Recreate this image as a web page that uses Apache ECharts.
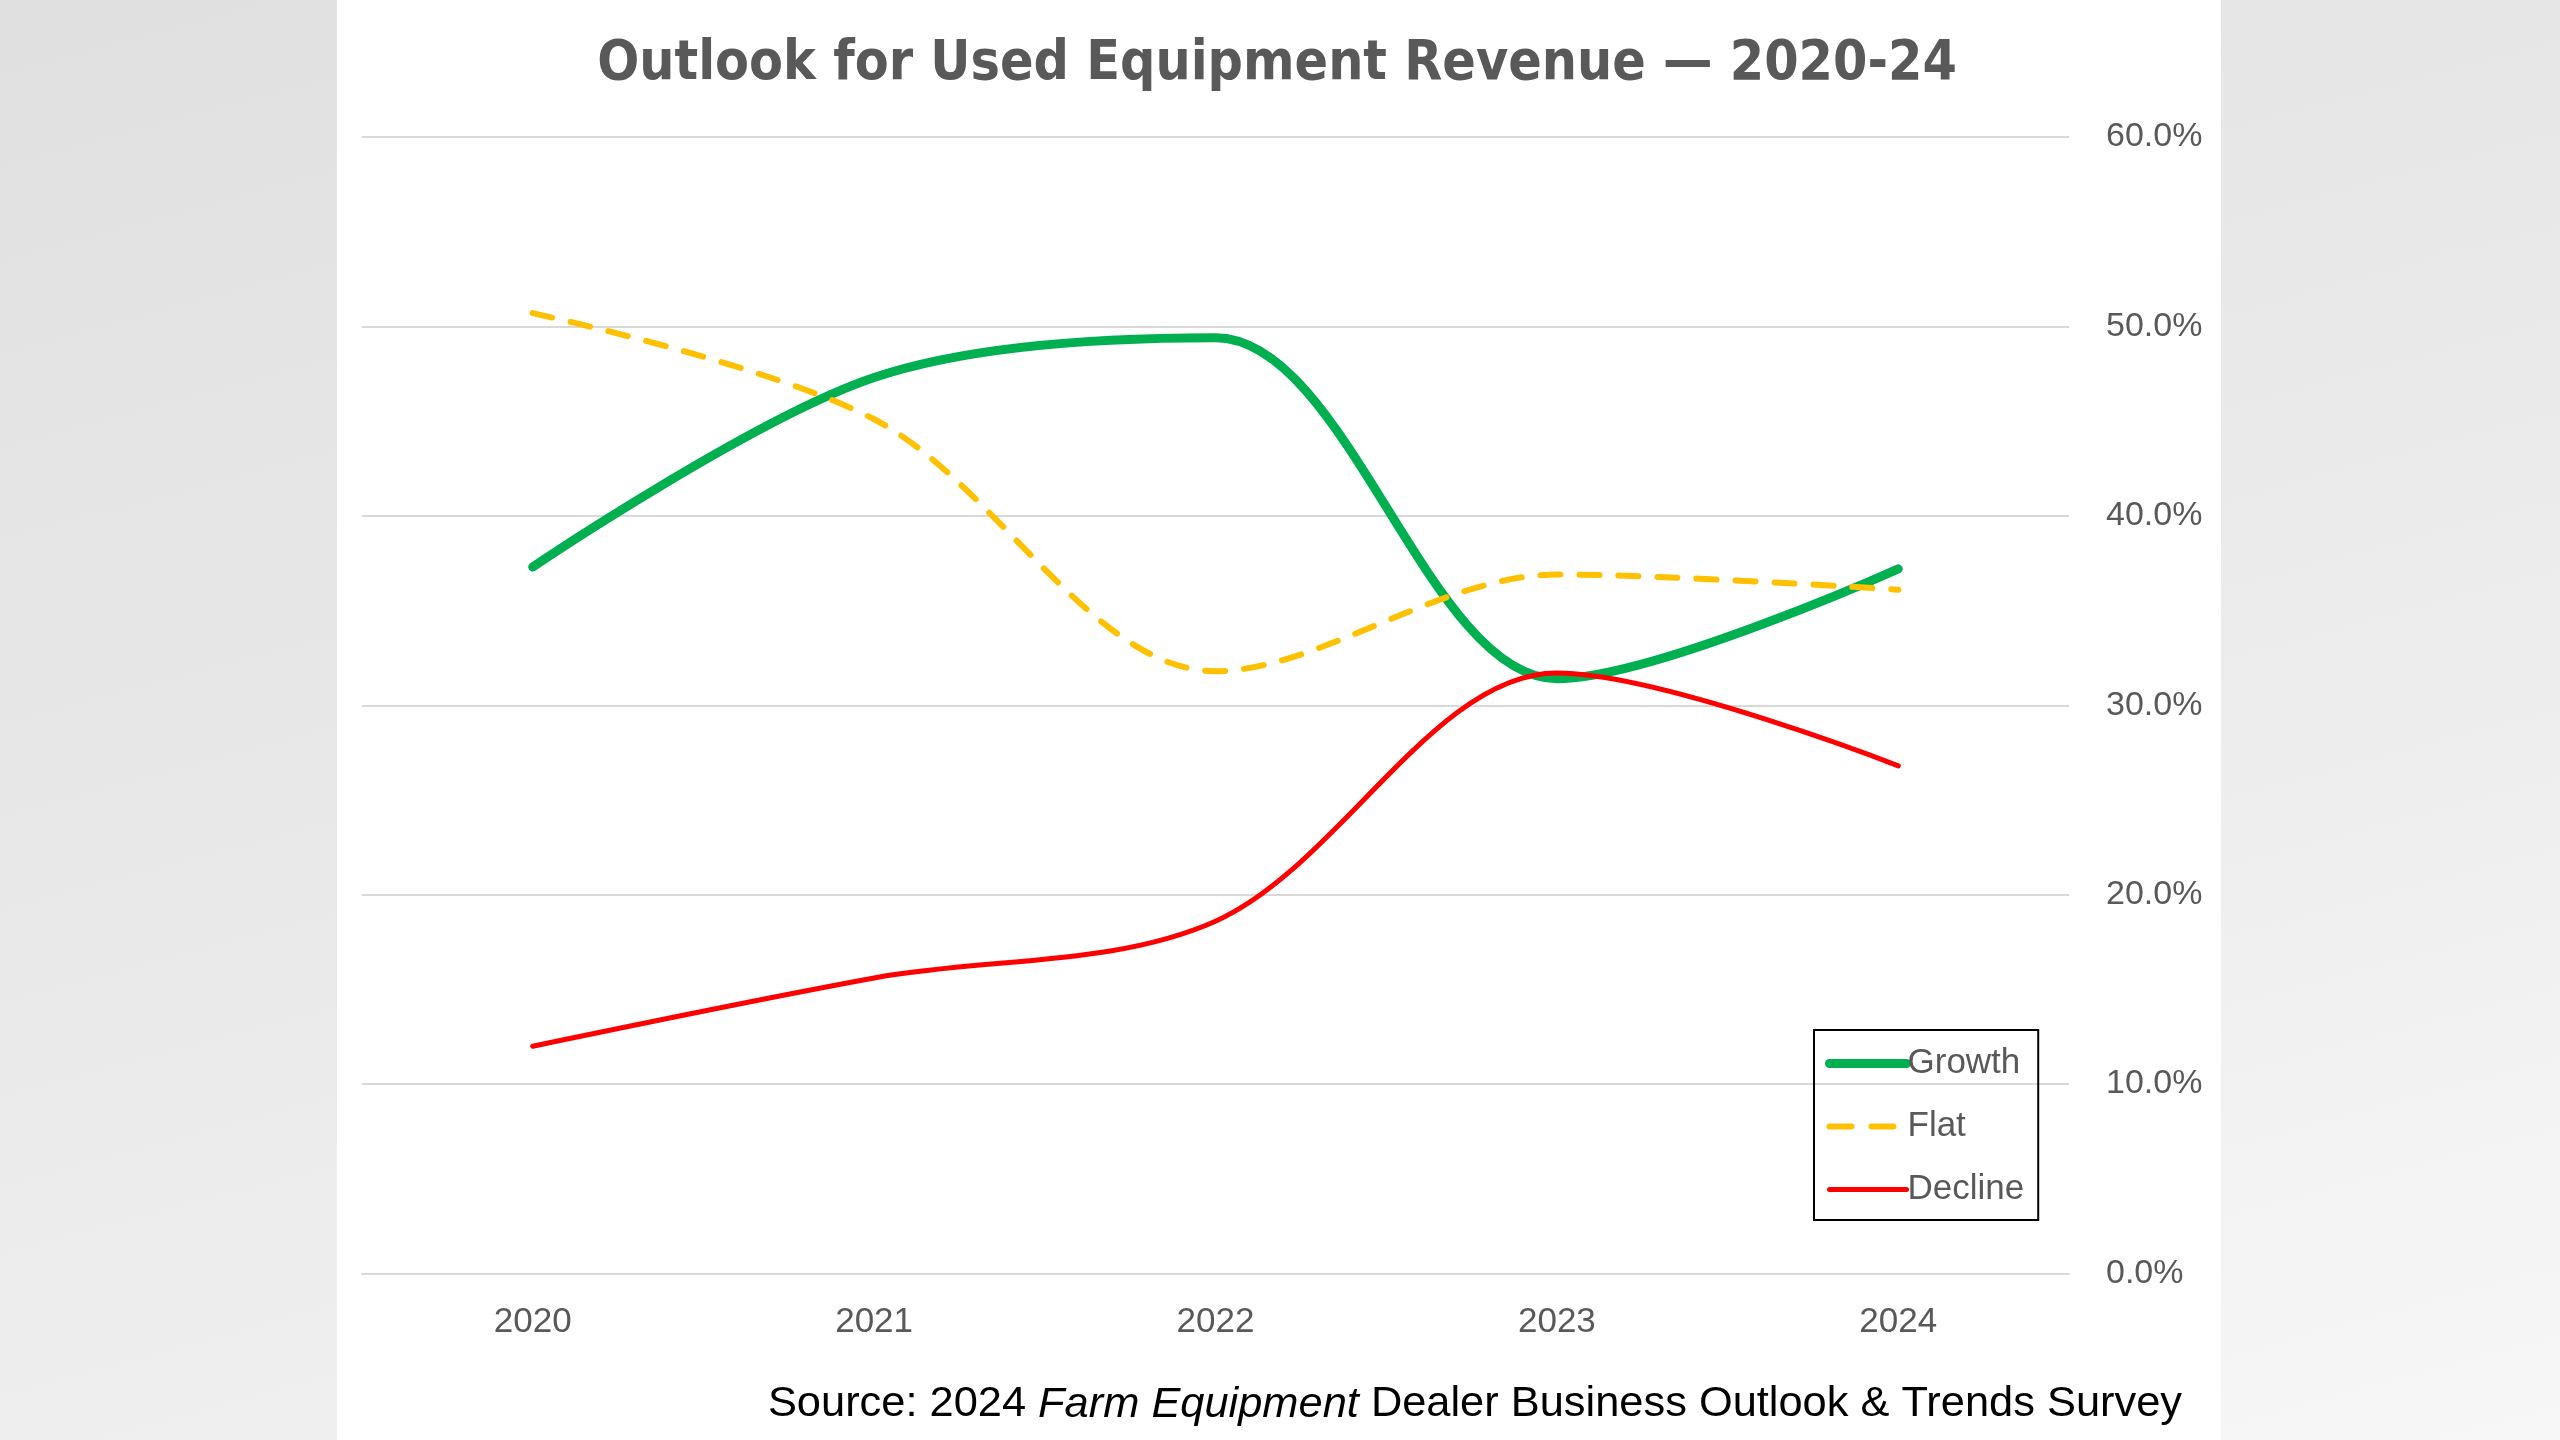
<!DOCTYPE html>
<html>
<head>
<meta charset="utf-8">
<script src="https://cdn.jsdelivr.net/npm/echarts@6/dist/echarts.min.js"></script>
<style>
  html, body { margin: 0; padding: 0; width: 2560px; height: 1440px; overflow: hidden; }
  body { background: linear-gradient(165deg, #e0e0e0 0%, #ebebeb 55%, #f7f7f7 100%); position: relative; }
  #panel { position: absolute; left: 337px; top: 0; width: 1884px; height: 1440px; background: #ffffff; }
  #chart { position: absolute; left: 0; top: 0; width: 2560px; height: 1440px; }
</style>
</head>
<body>
<div id="panel"></div>
<div id="chart"></div>
<script>
const categories = ['2020', '2021', '2022', '2023', '2024'];
const growth = [37.3, 47.3, 49.4, 31.4, 37.2];
const flat = [50.7, 45.1, 31.8, 36.9, 36.1];
const decline = [12.0, 15.6, 18.6, 31.7, 26.8];
const seriesNames = ['Growth', 'Flat', 'Decline'];
const yTicks = { min: 0, max: 60, interval: 10 };

const chart = echarts.init(document.getElementById('chart'), null, { renderer: 'canvas' });
const labelFont = '"Liberation Sans", Arial, sans-serif';
const smoothness = 0.33;
const option = {
  backgroundColor: 'transparent',
  animation: false,
  title: [
    {
      text: 'Outlook for Used Equipment Revenue \u2014 2020-24',
      left: 1272,
      textAlign: 'center',
      top: 32,
      textStyle: { fontFamily: '"Liberation Sans Narrow", "DejaVu Sans Condensed", sans-serif', fontWeight: 'bold', fontSize: 55, color: '#595959' }
    },
    {
      text: '{a|Source: 2024 }{b|Farm Equipment}{a| Dealer Business Outlook & Trends Survey}',
      right: 373,
      top: 1378,
      textStyle: {
        fontWeight: 'normal',
        rich: {
          a: { fontFamily: labelFont, fontSize: 43.4, fontWeight: 'normal', color: '#000000' },
          b: { fontFamily: labelFont, fontSize: 43.4, fontWeight: 'normal', color: '#000000', fontStyle: 'italic' }
        }
      }
    }
  ],
  legend: {
    orient: 'vertical',
    left: 1814,
    top: 1030,
    padding: [16, 14, 13, 11],
    borderColor: '#000000',
    borderWidth: 2,
    itemGap: 28,
    itemWidth: 77,
    itemHeight: 20,
    textStyle: { fontFamily: labelFont, fontSize: 35, color: '#595959', padding: [0, 0, 0, -4] },
    data: [
      { name: seriesNames[0], itemStyle: { opacity: 0 }, lineStyle: { width: 9, cap: 'round' } },
      { name: seriesNames[1], itemStyle: { opacity: 0 }, lineStyle: { width: 6, type: [22, 20], cap: 'round' } },
      { name: seriesNames[2], itemStyle: { opacity: 0 }, lineStyle: { width: 5, cap: 'round' } }
    ]
  },
  grid: { left: 362, right: 491, top: 137, bottom: 166.5, containLabel: false },
  xAxis: {
    type: 'category',
    data: categories,
    boundaryGap: true,
    axisLine: { show: true, lineStyle: { color: '#d9d9d9', width: 2 } },
    axisTick: { show: false },
    axisLabel: { margin: 31, fontFamily: labelFont, fontSize: 35, color: '#595959' }
  },
  yAxis: {
    type: 'value',
    position: 'right',
    min: yTicks.min,
    max: yTicks.max,
    interval: yTicks.interval,
    axisLine: { show: false },
    axisTick: { show: false },
    splitLine: { lineStyle: { color: '#d9d9d9', width: 2 } },
    axisLabel: {
      margin: 37,
      align: 'left',
      padding: [5, 0, 0, 0],
      fontFamily: labelFont,
      fontSize: 34,
      color: '#595959',
      formatter: v => v.toFixed(1) + '%'
    }
  },
  series: [
    {
      name: seriesNames[0], type: 'line', data: growth, smooth: smoothness, symbol: 'none',
      itemStyle: { color: '#00B050' },
      lineStyle: { color: '#00B050', width: 9, cap: 'round', join: 'round' },
      z: 3
    },
    {
      name: seriesNames[1], type: 'line', data: flat, smooth: smoothness, symbol: 'none',
      itemStyle: { color: '#FFC000' },
      lineStyle: { color: '#FFC000', width: 6, type: [20, 19], cap: 'round' },
      z: 4
    },
    {
      name: seriesNames[2], type: 'line', data: decline, smooth: smoothness, symbol: 'none',
      itemStyle: { color: '#FF0000' },
      lineStyle: { color: '#FF0000', width: 5, cap: 'round', join: 'round' },
      z: 5
    }
  ]
};
chart.setOption(option);
</script>
</body>
</html>
